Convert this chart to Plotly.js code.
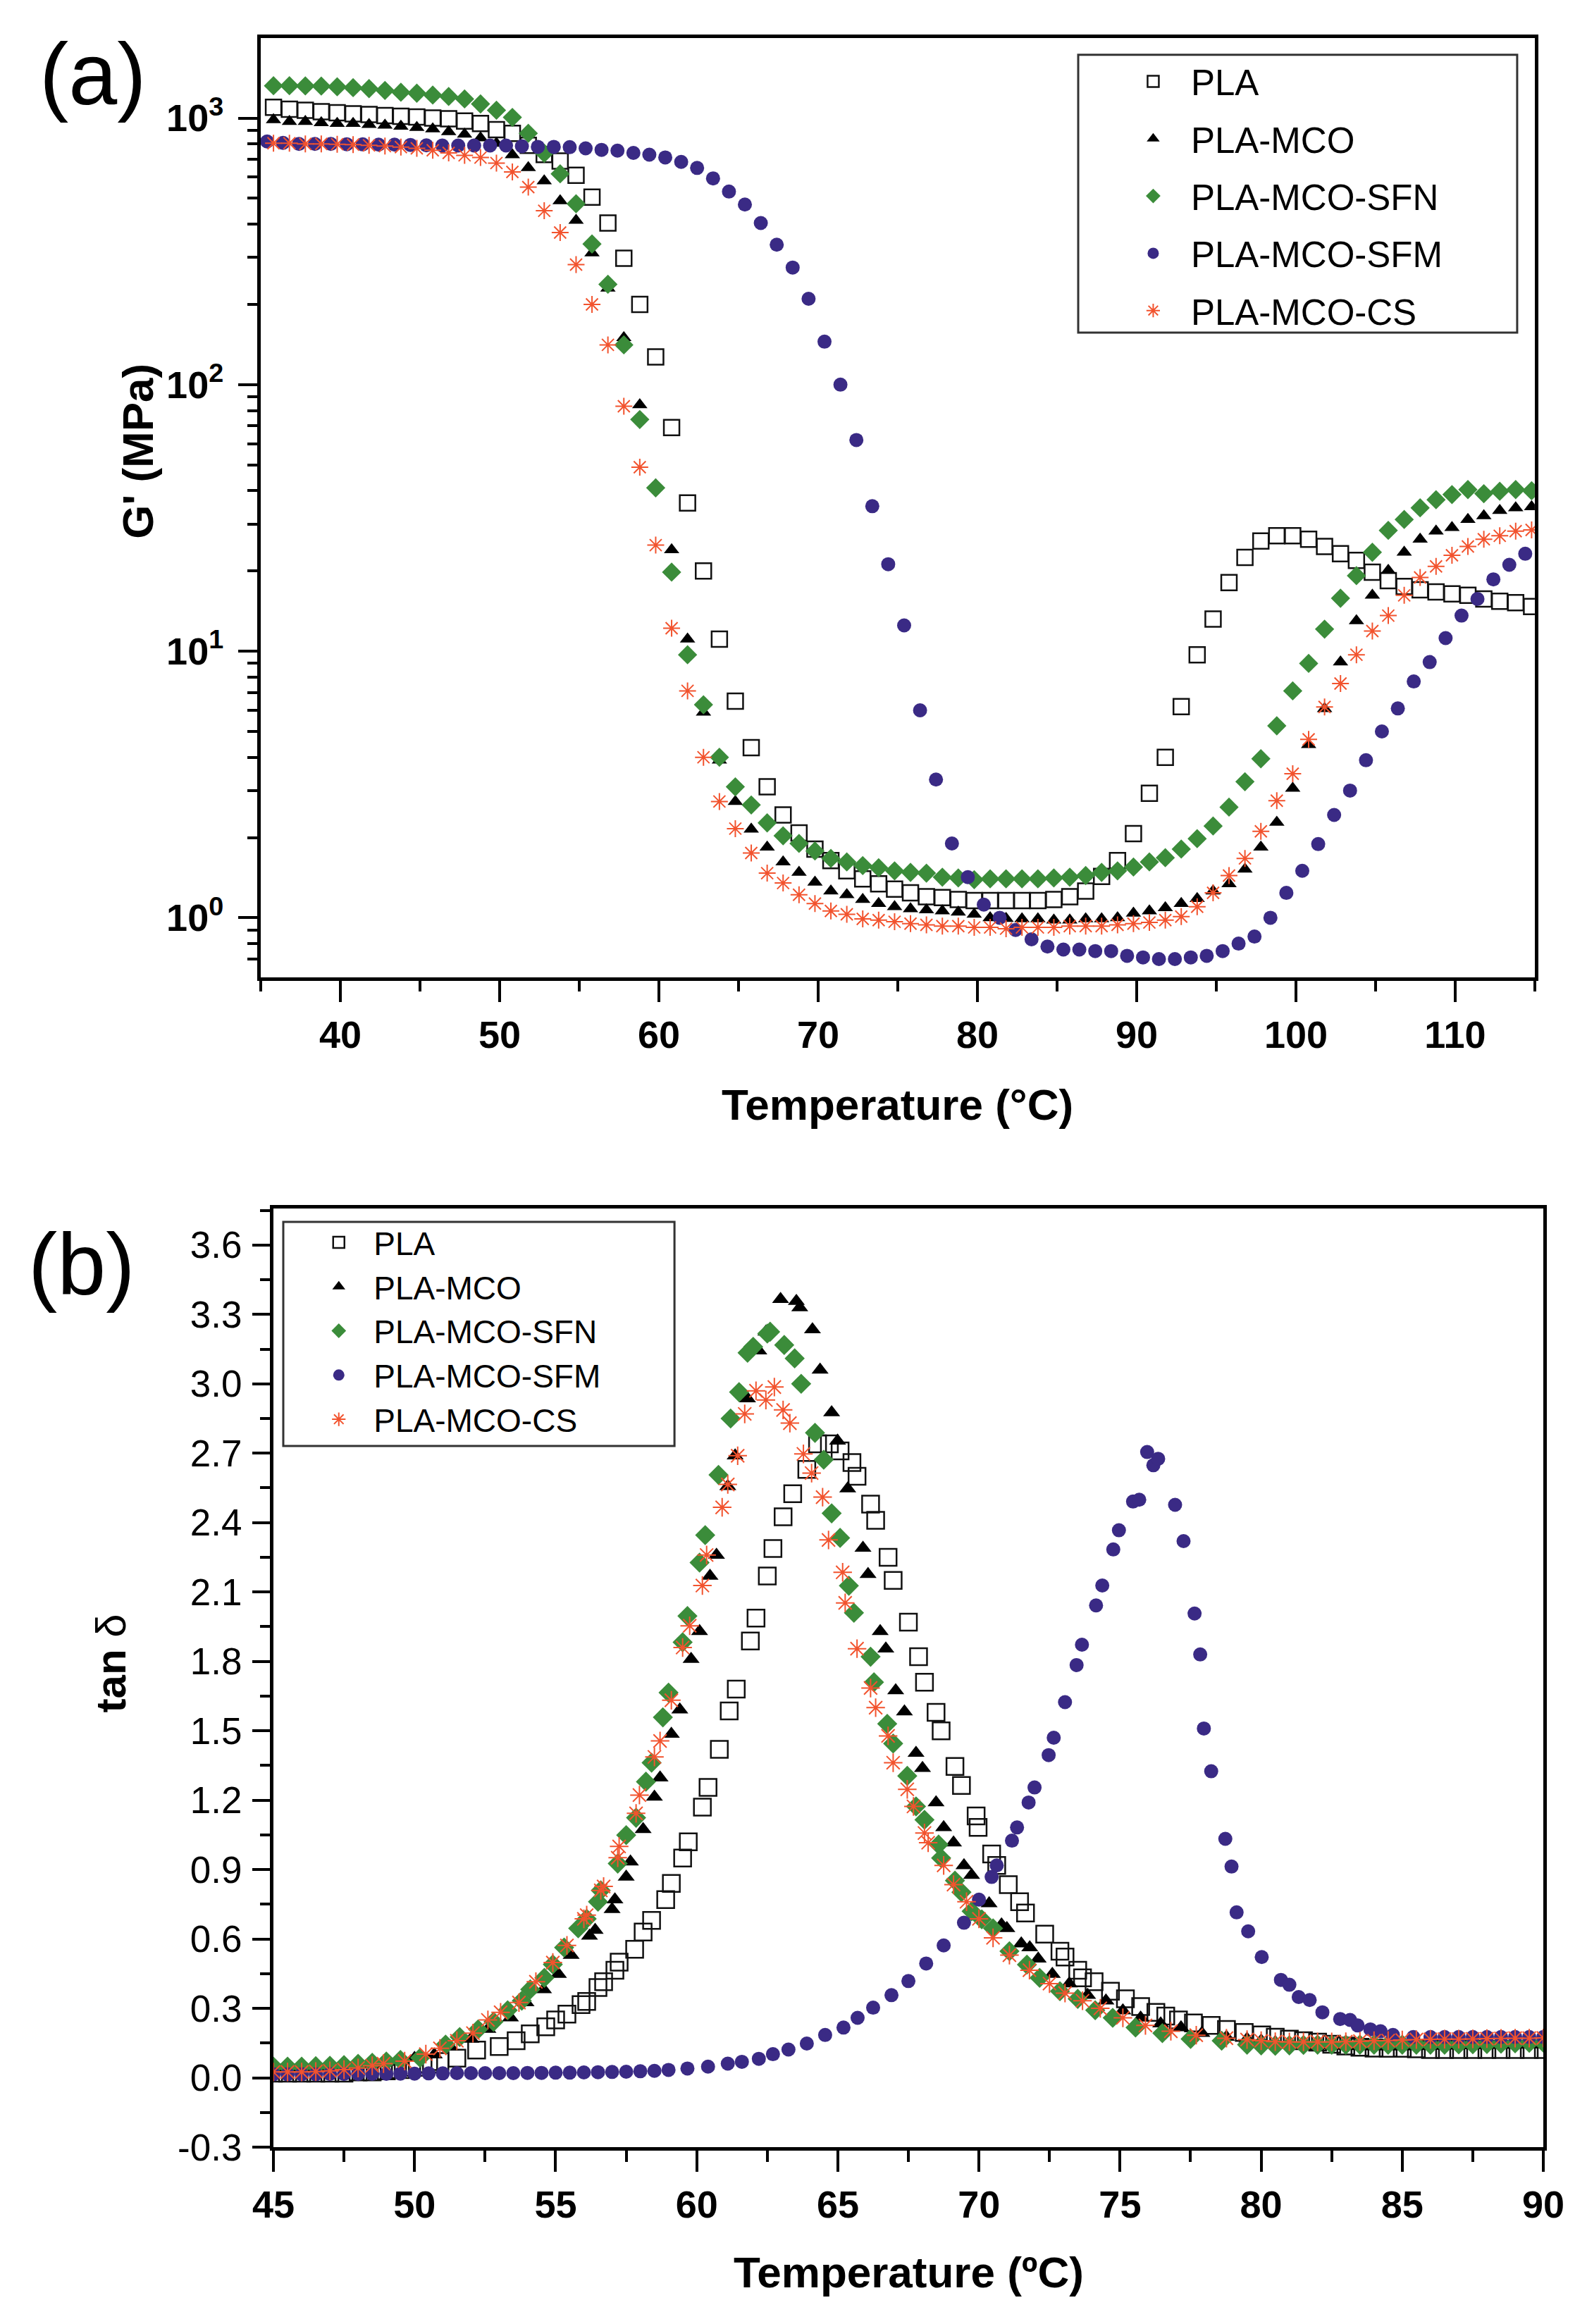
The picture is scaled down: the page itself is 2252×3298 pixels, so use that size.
<!DOCTYPE html>
<html>
<head>
<meta charset="utf-8">
<script src="https://cdn.plot.ly/plotly-3.0.1.min.js"></script>
<style>
  body { margin: 0; background: #fff; }
  #chart { width: 2252px; height: 3298px; }
</style>
</head>
<body>
<div id="chart"></div>
<script>
// ---------- panel (a): G' (MPa) vs temperature ----------
const tempA = [35.8, 36.8, 37.8, 38.8, 39.8, 40.8, 41.8, 42.8, 43.8, 44.8,
  45.8, 46.8, 47.8, 48.8, 49.8, 50.8, 51.8, 52.8, 53.8, 54.8,
  55.8, 56.8, 57.8, 58.8, 59.8, 60.8, 61.8, 62.8, 63.8, 64.8,
  65.8, 66.8, 67.8, 68.8, 69.8, 70.8, 71.8, 72.8, 73.8, 74.8,
  75.8, 76.8, 77.8, 78.8, 79.8, 80.8, 81.8, 82.8, 83.8, 84.8,
  85.8, 86.8, 87.8, 88.8, 89.8, 90.8, 91.8, 92.8, 93.8, 94.8,
  95.8, 96.8, 97.8, 98.8, 99.8, 100.8, 101.8, 102.8, 103.8, 104.8,
  105.8, 106.8, 107.8, 108.8, 109.8, 110.8, 111.8, 112.8, 113.8, 114.8];
const tempA_SFM = [35.4, 36.4, 37.4, 38.4, 39.4, 40.4, 41.4, 42.4, 43.4, 44.4,
  45.4, 46.4, 47.4, 48.4, 49.4, 50.4, 51.4, 52.4, 53.4, 54.4,
  55.4, 56.4, 57.4, 58.4, 59.4, 60.4, 61.4, 62.4, 63.4, 64.4,
  65.4, 66.4, 67.4, 68.4, 69.4, 70.4, 71.4, 72.4, 73.4, 74.4,
  75.4, 76.4, 77.4, 78.4, 79.4, 80.4, 81.4, 82.4, 83.4, 84.4,
  85.4, 86.4, 87.4, 88.4, 89.4, 90.4, 91.4, 92.4, 93.4, 94.4,
  95.4, 96.4, 97.4, 98.4, 99.4, 100.4, 101.4, 102.4, 103.4, 104.4,
  105.4, 106.4, 107.4, 108.4, 109.4, 110.4, 111.4, 112.4, 113.4, 114.4];

const gPLA = [1098, 1080, 1070, 1057, 1047, 1038, 1031, 1022, 1016, 1010,
  1000, 994, 975, 954, 905, 877, 790, 730, 690, 610,
  505, 404, 298, 200, 127, 69, 36, 20, 11.1, 6.5,
  4.35, 3.1, 2.43, 2.08, 1.81, 1.64, 1.5, 1.40, 1.34, 1.28,
  1.24, 1.2, 1.19, 1.17, 1.16, 1.16, 1.16, 1.16, 1.16, 1.17,
  1.2, 1.26, 1.43, 1.64, 2.07, 2.93, 4.0, 6.2, 9.7, 13.2,
  18.1, 22.5, 25.9, 27.1, 27.1, 26.3, 24.7, 23.2, 21.9, 19.8,
  18.4, 17.5, 17.0, 16.7, 16.4, 16.2, 15.7, 15.4, 15.2, 14.7];
const gMCO = [985, 970, 970, 960, 954, 954, 945, 940, 931, 922,
  910, 888, 870, 843, 804, 728, 651, 581, 489, 413,
  312, 230, 150, 84, 42, 24, 11.1, 5.9, 3.9, 2.73,
  2.15, 1.84, 1.62, 1.48, 1.36, 1.26, 1.22, 1.17, 1.13, 1.10,
  1.08, 1.07, 1.06, 1.05, 1.03, 1.0, 0.993, 0.99, 0.99, 0.98,
  0.98, 0.99, 0.99, 1.0, 1.04, 1.06, 1.09, 1.13, 1.18, 1.26,
  1.34, 1.52, 1.84, 2.28, 3.06, 4.46, 6.08, 9.1, 13.0, 16.2,
  20.1, 23.5, 26.3, 28.2, 29.1, 31.2, 32.2, 33.7, 34.5, 34.8];
const gSFN = [1322, 1322, 1320, 1318, 1310, 1300, 1290, 1270, 1250, 1240,
  1220, 1205, 1180, 1130, 1070, 1006, 877, 738, 618, 477,
  337, 238, 141, 74, 41, 19.8, 9.7, 6.3, 4.0, 3.1,
  2.65, 2.27, 2.03, 1.9, 1.78, 1.67, 1.62, 1.57, 1.54, 1.5,
  1.48, 1.47, 1.42, 1.41, 1.39, 1.40, 1.40, 1.40, 1.40, 1.41,
  1.42, 1.44, 1.48, 1.5, 1.55, 1.62, 1.68, 1.81, 1.98, 2.21,
  2.6, 3.24, 3.95, 5.25, 7.1, 9.0, 12.1, 15.8, 19.2, 23.5,
  28.4, 31.2, 34.5, 37, 38.7, 40.4, 39, 39.8, 40.4, 40];
const gSFM = [817, 807, 800, 800, 800, 798, 797, 795, 795, 793,
  790, 789, 789, 789, 789, 789, 784, 780, 780, 778,
  770, 760, 755, 740, 729, 712, 685, 650, 594, 530,
  474, 404, 335, 275, 210, 145, 100, 62, 35, 21.2,
  12.5, 6.0, 3.3, 1.9, 1.42, 1.12, 1.0, 0.9, 0.83, 0.78,
  0.76, 0.76, 0.75, 0.75, 0.72, 0.71, 0.70, 0.70, 0.71, 0.72,
  0.75, 0.80, 0.85, 1.0, 1.24, 1.5, 1.89, 2.43, 3.0, 3.9,
  5.0, 6.1, 7.7, 9.1, 11.2, 13.6, 15.7, 18.6, 21.1, 23.2];
const gCS = [805, 805, 800, 800, 798, 795, 790, 785, 778, 770,
  757, 740, 725, 711, 678, 628, 551, 449, 372, 282,
  200, 141, 83, 49, 25, 12.2, 7.1, 4.0, 2.73, 2.16,
  1.75, 1.47, 1.35, 1.22, 1.13, 1.06, 1.03, 0.99, 0.98, 0.966,
  0.95, 0.94, 0.93, 0.93, 0.92, 0.92, 0.91, 0.92, 0.92, 0.92,
  0.93, 0.93, 0.93, 0.94, 0.95, 0.96, 0.98, 1.01, 1.10, 1.24,
  1.44, 1.67, 2.11, 2.75, 3.47, 4.67, 6.18, 7.56, 9.7, 11.9,
  13.6, 16.2, 18.9, 20.8, 22.9, 24.7, 26.3, 27.1, 28.2, 28.5];

// ---------- panel (b): tan delta vs temperature ----------
// each series keeps its own temperatures (points were read where the markers sit)
const tbPLA = [45.0, 45.5, 46.0, 46.5, 47.0, 47.5, 48.0, 48.5, 49.0, 49.5, 50.0, 50.5,
  50.9, 51.5, 52.2, 53.0, 53.6, 54.1, 54.65, 55.0, 55.4, 55.9,
  56.1, 56.5, 56.7, 57.1, 57.25, 57.8, 58.1, 58.4, 58.9, 59.1,
  59.5, 59.7, 60.2, 60.4, 60.8, 61.15, 61.4, 61.9, 62.1, 62.5,
  62.7, 63.06, 63.4, 63.9, 64.28, 64.7, 65.08, 65.5, 65.68, 66.16,
  66.34, 66.78, 66.96, 67.5, 67.86, 68.07, 68.48, 68.66, 69.15, 69.38,
  69.9, 69.97, 70.45, 70.63, 71.04, 71.44, 71.65, 72.33, 72.87, 73.05,
  73.5, 73.67, 74.08, 74.66, 75.19, 75.73, 76.27, 76.62, 77.07, 77.6,
  78.23, 78.77, 79.4, 80.02,
  80.5, 81.0, 81.5, 82.0, 82.5, 83.0, 83.5, 84.0, 84.5, 85.0,
  85.5, 86.0, 86.5, 87.0, 87.5, 88.0, 88.5, 89.0, 89.5, 90.0];
const tPLA = [0.02, 0.02, 0.02, 0.02, 0.02, 0.02, 0.025, 0.025, 0.03, 0.035, 0.045, 0.06,
  0.07, 0.085, 0.12, 0.135, 0.16, 0.19, 0.22, 0.25, 0.275, 0.316,
  0.33, 0.39, 0.415, 0.465, 0.5, 0.555, 0.63, 0.68, 0.77, 0.84,
  0.95, 1.02, 1.17, 1.255, 1.42, 1.586, 1.68, 1.888, 1.987, 2.169,
  2.288, 2.425, 2.525, 2.63, 2.74, 2.74, 2.71, 2.66, 2.6, 2.48,
  2.41, 2.25, 2.15, 1.97, 1.82, 1.71, 1.58, 1.5, 1.346, 1.264,
  1.132, 1.082, 0.967, 0.918, 0.835, 0.761, 0.712, 0.621, 0.547, 0.522,
  0.465, 0.432, 0.415, 0.374, 0.341, 0.308, 0.283, 0.267, 0.25, 0.237,
  0.226, 0.209, 0.196, 0.185,
  0.175, 0.167, 0.16, 0.154, 0.145, 0.137, 0.132, 0.128, 0.127, 0.127,
  0.125, 0.122, 0.122, 0.122, 0.122, 0.122, 0.122, 0.122, 0.122, 0.122];

const tbMCO = [45.0, 45.5, 46.0, 46.5, 47.0, 47.5, 48.0, 48.5, 49.0, 49.5, 50.0,
  50.7, 51.26, 52.0, 52.6, 53.4, 53.95, 54.57, 55.1, 55.55, 56.2,
  56.4, 57.0, 57.1, 57.5, 57.65, 58.1, 58.5, 58.7, 59.1, 59.4,
  59.8, 60.1, 60.47, 60.7, 61.1, 61.36, 61.8, 62.2, 62.45, 62.97,
  63.53, 63.65, 64.1, 64.37, 64.78, 64.99, 65.35, 65.89, 66.07, 66.5,
  66.7, 67.05, 67.36, 67.77, 68.0, 68.48, 68.75, 69.1, 69.47, 69.74,
  70.36, 70.8, 70.99, 71.5, 71.8, 72.1, 72.6, 73.2, 73.85, 74.5,
  75.1, 75.73, 76.44, 77.16, 77.9, 78.77, 79.5, 80.0,
  80.5, 81.0, 81.5, 82.0, 82.5, 83.0, 83.5, 84.0, 84.5, 85.0,
  85.5, 86.0, 86.5, 87.0, 87.5, 88.0, 88.5, 89.0, 89.5, 90.0];
const tMCO = [0.045, 0.045, 0.045, 0.047, 0.05, 0.053, 0.057, 0.062, 0.068, 0.075, 0.085,
  0.10, 0.135, 0.168, 0.21, 0.26, 0.325, 0.382, 0.448, 0.53, 0.613,
  0.638, 0.728, 0.77, 0.868, 0.934, 1.074, 1.214, 1.297, 1.486, 1.591,
  1.81, 1.93, 2.169, 2.26, 2.557, 2.689, 2.936, 3.143, 3.225, 3.366,
  3.357, 3.33, 3.235, 3.06, 2.876, 2.753, 2.547, 2.29, 2.177, 1.93,
  1.855, 1.674, 1.583, 1.404, 1.338, 1.19, 1.082, 1.016, 0.918, 0.876,
  0.753, 0.662, 0.646, 0.58, 0.563, 0.514, 0.448, 0.407, 0.357, 0.333,
  0.29, 0.259, 0.234, 0.217, 0.193, 0.176, 0.168, 0.16,
  0.153, 0.148, 0.144, 0.141, 0.139, 0.137, 0.136, 0.135, 0.135, 0.135,
  0.136, 0.137, 0.138, 0.14, 0.14, 0.141, 0.142, 0.142, 0.143, 0.143];

const tbSFN = [45.0, 45.5, 46.0, 46.5, 47.0, 47.5, 48.0, 48.5, 49.0, 49.5,
  50.2, 51.1, 51.6, 52.25, 52.8, 53.3, 53.8, 54.1, 54.6, 54.9,
  55.3, 55.8, 56.1, 56.5, 56.6, 57.2, 57.5, 57.85, 58.2, 58.4,
  58.8, 59.0, 59.5, 59.67, 60.1, 60.3, 60.77, 61.2, 61.5, 61.8,
  62.0, 62.5, 62.6, 63.1, 63.47, 63.7, 64.19, 64.5, 64.78, 65.08,
  65.39, 65.57, 66.16, 66.28, 66.75, 66.96, 67.46, 67.77, 68.07, 68.57,
  68.66, 69.15, 69.38, 69.74, 70.1, 70.5, 71.08, 71.7, 72.15, 72.87,
  73.5, 74.12, 74.74, 75.55, 76.5, 77.5, 78.6, 79.5, 80.0,
  80.5, 81.0, 81.5, 82.0, 82.5, 83.0, 83.5, 84.0, 84.5, 85.0,
  85.5, 86.0, 86.5, 87.0, 87.5, 88.0, 88.5, 89.0, 89.5, 90.0];
const tSFN = [0.048, 0.048, 0.048, 0.05, 0.052, 0.055, 0.06, 0.065, 0.07, 0.077,
  0.086, 0.143, 0.176, 0.209, 0.242, 0.292, 0.333, 0.382, 0.432, 0.49,
  0.563, 0.646, 0.687, 0.761, 0.81, 0.926, 1.049, 1.124, 1.28, 1.362,
  1.558, 1.665, 1.883, 1.996, 2.227, 2.346, 2.606, 2.85, 2.964, 3.134,
  3.16, 3.217, 3.225, 3.168, 3.11, 3.0, 2.788, 2.672, 2.44, 2.334,
  2.127, 2.01, 1.82, 1.71, 1.53, 1.445, 1.305, 1.173, 1.115, 1.008,
  0.95, 0.852, 0.802, 0.72, 0.685, 0.646, 0.547, 0.489, 0.432, 0.374,
  0.341, 0.292, 0.259, 0.217, 0.193, 0.168, 0.16, 0.143, 0.14,
  0.138, 0.14, 0.142, 0.143, 0.143, 0.143, 0.143, 0.143, 0.143, 0.143,
  0.143, 0.143, 0.143, 0.144, 0.145, 0.146, 0.147, 0.149, 0.151, 0.152];

const tbSFM = [45.0, 45.5, 46.0, 46.5, 47.0, 47.5, 48.0, 48.5, 49.0, 49.5,
  50.0, 50.5, 51.0, 51.5, 52.0, 52.5, 53.0, 53.5, 54.0, 54.5,
  55.0, 55.5, 56.0, 56.5, 57.0, 57.5, 58.0, 58.5, 59.0,
  59.67, 60.4, 61.1, 61.6, 62.2, 62.7, 63.25, 63.9, 64.55, 65.2,
  65.7, 66.25, 66.9, 67.5, 68.13, 68.75, 69.47, 70.0, 70.45, 70.63,
  71.17, 71.35, 71.76, 71.97, 72.47, 72.65, 73.05, 73.46, 73.65, 74.15,
  74.37, 74.76, 74.96, 75.46, 75.68, 75.96, 76.18, 76.35, 76.95, 77.25,
  77.64, 77.84, 77.97, 78.23, 78.73, 78.95, 79.13, 79.54, 80.02, 80.7,
  81.0, 81.33, 81.72, 82.17, 82.8, 83.15, 83.42, 83.87, 84.23, 84.67,
  85.39, 86.0, 86.5, 87.0, 87.5, 88.0, 88.5, 89.0, 89.5, 90.0];
const tSFM = [0.015, 0.015, 0.015, 0.015, 0.016, 0.016, 0.016, 0.017, 0.017, 0.018,
  0.018, 0.019, 0.019, 0.02, 0.02, 0.02, 0.02, 0.02, 0.021, 0.021,
  0.022, 0.022, 0.023, 0.024, 0.025, 0.026, 0.028, 0.03, 0.034,
  0.04, 0.048, 0.061, 0.069, 0.082, 0.102, 0.122, 0.148, 0.185, 0.217,
  0.259, 0.303, 0.357, 0.418, 0.494, 0.572, 0.67, 0.77, 0.868, 0.918,
  1.025, 1.082, 1.19, 1.255, 1.395, 1.47, 1.624, 1.784, 1.872, 2.042,
  2.128, 2.284, 2.367, 2.491, 2.499, 2.705, 2.648, 2.676, 2.477, 2.32,
  2.007, 1.83, 1.51, 1.325, 1.033, 0.913, 0.715, 0.633, 0.522, 0.423,
  0.402, 0.349, 0.336, 0.283, 0.254, 0.25, 0.226, 0.209, 0.201, 0.185,
  0.176, 0.176, 0.176, 0.176, 0.176, 0.176, 0.176, 0.176, 0.176, 0.176];

const tbCS = [45.0, 45.5, 46.0, 46.5, 47.0, 47.5, 48.0, 48.5,
  48.9, 49.65, 50.4, 50.9, 51.5, 52.07, 52.6, 53.05, 53.7, 54.3,
  54.9, 55.4, 56.0, 56.1, 56.6, 56.7, 57.2, 57.25, 57.85, 57.97,
  58.5, 58.7, 59.1, 59.5, 59.75, 60.2, 60.35, 60.9, 61.1, 61.45,
  61.7, 62.1, 62.45, 62.75, 63.06, 63.3, 63.78, 64.07, 64.46, 64.67,
  65.17, 65.26, 65.68, 66.16, 66.34, 66.78, 66.96, 67.46, 67.68, 68.07,
  68.2, 68.75, 69.1, 69.56, 70.0, 70.5, 71.08, 71.79, 72.5, 73.05,
  73.67, 74.3, 75.1, 75.9, 76.8, 77.7, 78.77, 79.5, 80.0,
  80.5, 81.0, 81.5, 82.0, 82.5, 83.0, 83.5, 84.0, 84.5, 85.0,
  85.5, 86.0, 86.5, 87.0, 87.5, 88.0, 88.5, 89.0, 89.5, 90.0];
const tCS = [0.025, 0.025, 0.025, 0.027, 0.03, 0.035, 0.042, 0.052,
  0.061, 0.072, 0.102, 0.127, 0.16, 0.193, 0.25, 0.283, 0.325, 0.415,
  0.498, 0.572, 0.687, 0.703, 0.81, 0.827, 0.951, 1.0, 1.143, 1.222,
  1.387, 1.456, 1.632, 1.86, 1.954, 2.128, 2.26, 2.466, 2.565, 2.689,
  2.87, 2.97, 2.93, 2.986, 2.887, 2.83, 2.697, 2.614, 2.51, 2.325,
  2.185, 2.053, 1.855, 1.685, 1.6, 1.478, 1.362, 1.247, 1.173, 1.058,
  1.016, 0.918, 0.835, 0.761, 0.687, 0.605, 0.53, 0.465, 0.407, 0.366,
  0.333, 0.30, 0.259, 0.226, 0.201, 0.184, 0.171, 0.165, 0.16,
  0.156, 0.155, 0.155, 0.155, 0.155, 0.156, 0.158, 0.16, 0.161, 0.163,
  0.165, 0.166, 0.167, 0.167, 0.168, 0.169, 0.17, 0.171, 0.171, 0.172];

const names = ['PLA', 'PLA-MCO', 'PLA-MCO-SFN', 'PLA-MCO-SFM', 'PLA-MCO-CS'];

// tick arrays
const ticksAx = [40, 50, 60, 70, 80, 90, 100, 110];
const minorAx = [35, 45, 55, 65, 75, 85, 95, 105, 115];
const ticksAy = [1, 10, 100, 1000];
const labelsAy = ['10<sup>0</sup>', '10<sup>1</sup>', '10<sup>2</sup>', '10<sup>3</sup>'];
const minorAy = [0.7, 0.8, 0.9, 2, 3, 4, 5, 6, 7, 8, 9, 20, 30, 40, 50, 60, 70, 80, 90,
  200, 300, 400, 500, 600, 700, 800, 900];
const ticksBy = [-0.3, 0, 0.3, 0.6, 0.9, 1.2, 1.5, 1.8, 2.1, 2.4, 2.7, 3.0, 3.3, 3.6];
const labelsBy = ['-0.3', '0.0', '0.3', '0.6', '0.9', '1.2', '1.5', '1.8', '2.1', '2.4', '2.7', '3.0', '3.3', '3.6'];

const FONT = 'Liberation Sans, Arial, sans-serif';
const GREEN = '#3b8c3a';
const PURPLE = '#3a2a85';
const RED = '#f2532e';

// marker styles, one per series
function marker(i, panel) {
  const a = panel === 'a';
  switch (i) {
    case 0: return { symbol: 'square-open', size: a ? 22 : 24, color: '#111', line: { width: 2.5, color: '#111' } };
    case 1: return { symbol: 'triangle-up', size: a ? 19 : 21, color: '#000', line: { width: 0 } };
    case 2: return { symbol: 'diamond', size: a ? 21 : 22, color: GREEN, line: { width: 0 } };
    case 3: return { symbol: 'circle', size: 20, color: PURPLE, line: { width: 0 } };
    default: return { symbol: 'asterisk-open', size: a ? 20 : 22, color: RED, line: { width: 2, color: RED } };
  }
}

const xsA = [tempA, tempA, tempA, tempA_SFM, tempA];
const ysA = [gPLA, gMCO, gSFN, gSFM, gCS];
const xsB = [tbPLA, tbMCO, tbSFN, tbSFM, tbCS];
const ysB = [tPLA, tMCO, tSFN, tSFM, tCS];

const traces = [];
names.forEach((n, i) => {
  traces.push({
    type: 'scatter', mode: 'markers', x: xsA[i], y: ysA[i], name: n,
    xaxis: 'x', yaxis: 'y', legend: 'legend', legendgroup: 'a' + i,
    marker: marker(i, 'a'),
  });
});
names.forEach((n, i) => {
  traces.push({
    type: 'scatter', mode: 'markers', x: xsB[i], y: ysB[i], name: n,
    xaxis: 'x2', yaxis: 'y2', legend: 'legend2', legendgroup: 'b' + i,
    marker: marker(i, 'b'),
  });
});

const axisBase = {
  showline: true, linewidth: 5, linecolor: '#000', mirror: true,
  showgrid: false, zeroline: false, ticks: 'outside', tickcolor: '#000',
  tickwidth: 4, automargin: false,
};

// centred paper-space text
function label(text, x, y, size, angle) {
  return { text: text, xref: 'paper', yref: 'paper', x: x, y: y, xanchor: 'center', yanchor: 'middle',
    textangle: angle || 0, showarrow: false, font: { family: FONT, size: size, color: '#000' } };
}

const layout = {
  width: 2252, height: 3298,
  margin: { l: 0, r: 0, t: 0, b: 0 },
  paper_bgcolor: '#fff', plot_bgcolor: '#fff',
  font: { family: FONT, color: '#000' },
  showlegend: true,
  xaxis: Object.assign({}, axisBase, {
    domain: [0.1643, 0.9671], range: [35, 115], anchor: 'y',
    tickmode: 'array', tickvals: ticksAx, ticklen: 30, ticklabelstandoff: 0,
    tickfont: { family: FONT, size: 54, weight: 'bold' },
    minor: { tickmode: 'array', tickvals: minorAx, ticks: 'outside', ticklen: 15, tickwidth: 4, tickcolor: '#000' },
  }),
  yaxis: Object.assign({}, axisBase, {
    domain: [0.5794, 0.9836], type: 'log', range: [-0.224, 3.30], anchor: 'x',
    tickmode: 'array', tickvals: ticksAy, ticktext: labelsAy, ticklen: 27, ticklabelstandoff: 10,
    tickfont: { family: FONT, size: 54, weight: 'bold' },
    minor: { tickmode: 'array', tickvals: minorAy, ticks: 'outside', ticklen: 14, tickwidth: 4, tickcolor: '#000' },
  }),
  xaxis2: Object.assign({}, axisBase, {
    domain: [0.1723, 0.9725], range: [45, 90], anchor: 'y2',
    dtick: 5, tick0: 45, ticklen: 30, ticklabelstandoff: 0,
    tickfont: { family: FONT, size: 54, weight: 'bold' },
    minor: { dtick: 2.5, ticks: 'outside', ticklen: 16, tickwidth: 4, tickcolor: '#000' },
  }),
  yaxis2: Object.assign({}, axisBase, {
    domain: [0.0761, 0.4800], range: [-0.3, 3.758], anchor: 'x2',
    tickmode: 'array', tickvals: ticksBy, ticktext: labelsBy, ticklen: 25, ticklabelstandoff: 4,
    tickfont: { family: FONT, size: 53 },
    minor: { dtick: 0.15, tick0: 0, ticks: 'outside', ticklen: 14, tickwidth: 4, tickcolor: '#000' },
  }),
  legend: {
    x: 0.7029, y: 0.977, xanchor: 'left', yanchor: 'top',
    bgcolor: 'rgba(0,0,0,0)', borderwidth: 0, itemwidth: 97, tracegroupgap: 12,
    font: { family: FONT, size: 51, color: '#000' },
  },
  legend2: {
    x: 0.1915, y: 0.4765, xanchor: 'left', yanchor: 'top',
    bgcolor: 'rgba(0,0,0,0)', borderwidth: 0, itemwidth: 89, tracegroupgap: 0,
    font: { family: FONT, size: 46, color: '#000' },
  },
  shapes: [
    { type: 'rect', xref: 'paper', yref: 'paper', x0: 0.6794, x1: 0.9560, y0: 0.8569, y1: 0.9764,
      line: { color: '#333', width: 3 } },
    { type: 'rect', xref: 'paper', yref: 'paper', x0: 0.1785, x1: 0.4250, y0: 0.3778, y1: 0.4742,
      line: { color: '#333', width: 3 } },
  ],
  annotations: [
    label('(a)', 0.0588, 0.9682, 124),
    label('(b)', 0.0515, 0.4561, 124),
    label('<b>G\' (MPa)</b>', 0.087, 0.806, 62, -90),
    label('<b>Temperature (°C)</b>', 0.5657, 0.5246, 62),
    label('<b>tan</b> δ', 0.0699, 0.2844, 60, -90),
    label('<b>Temperature (ºC)</b>', 0.5724, 0.0224, 62),
  ],
};

Plotly.newPlot('chart', traces, layout, { displayModeBar: false, staticPlot: true });
</script>
</body>
</html>
